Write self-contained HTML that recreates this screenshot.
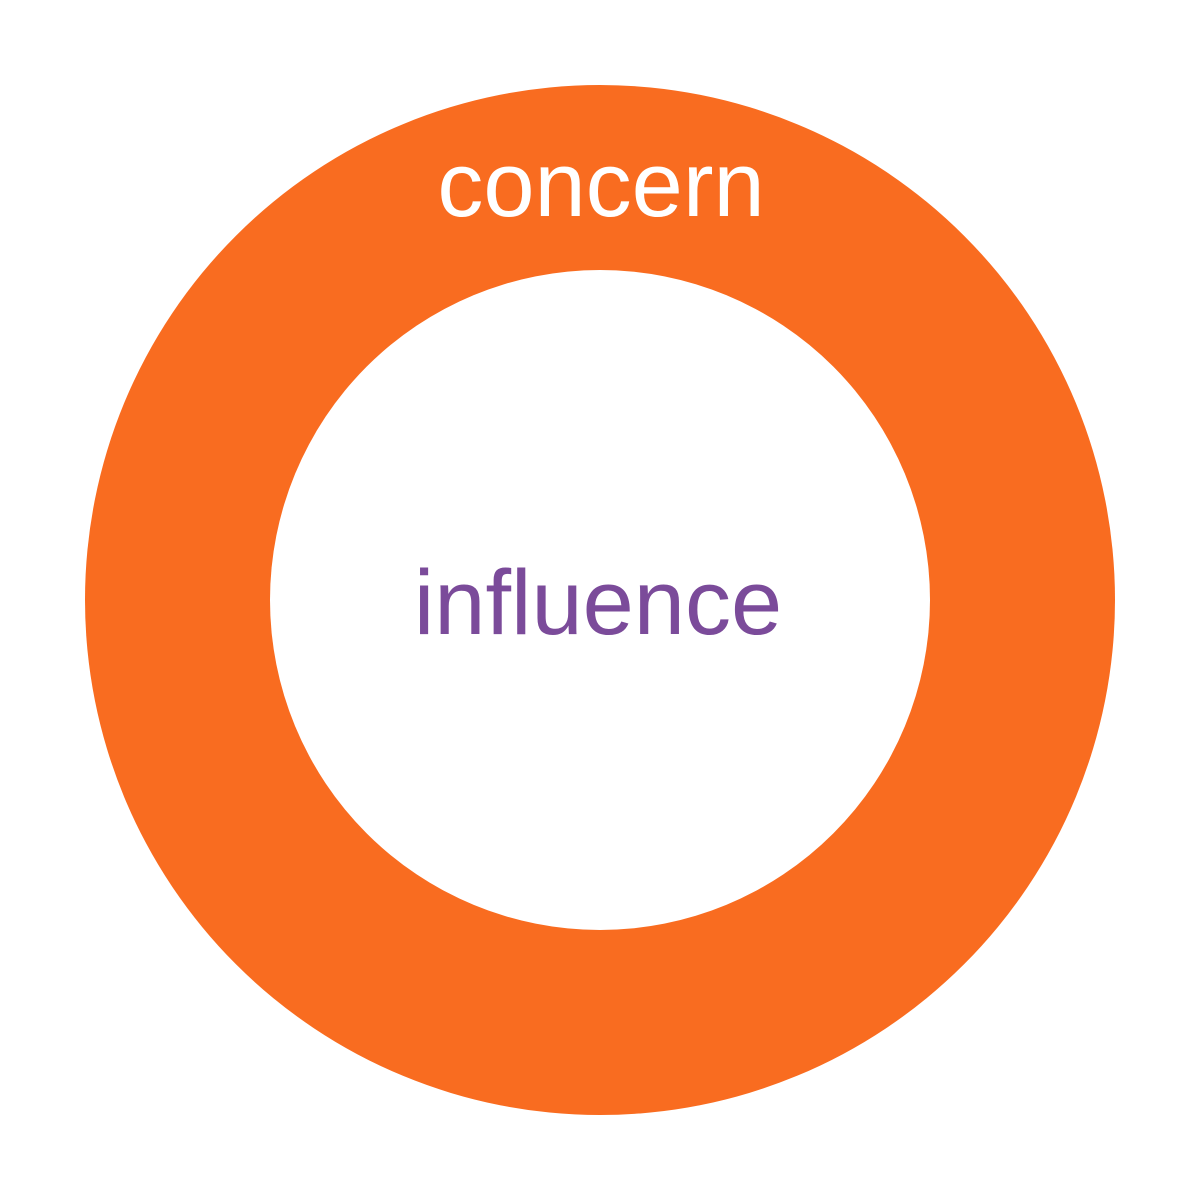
<!DOCTYPE html>
<html><head><meta charset="utf-8"><style>
html,body{margin:0;padding:0;background:#fff;width:1200px;height:1200px;overflow:hidden}
</style></head><body>
<svg width="1200" height="1200" viewBox="0 0 1200 1200" xmlns="http://www.w3.org/2000/svg">
<rect width="1200" height="1200" fill="#fff"/>
<circle cx="600" cy="600" r="515" fill="#F96C20"/>
<circle cx="600" cy="600" r="330" fill="#fff"/>
<text x="601" y="216" text-anchor="middle" font-family="Liberation Sans, sans-serif" font-size="92" fill="#fff">concern</text>
<text x="598" y="634" text-anchor="middle" font-family="Liberation Sans, sans-serif" font-size="92" fill="#7B4B9A">influence</text>
</svg>
</body></html>
